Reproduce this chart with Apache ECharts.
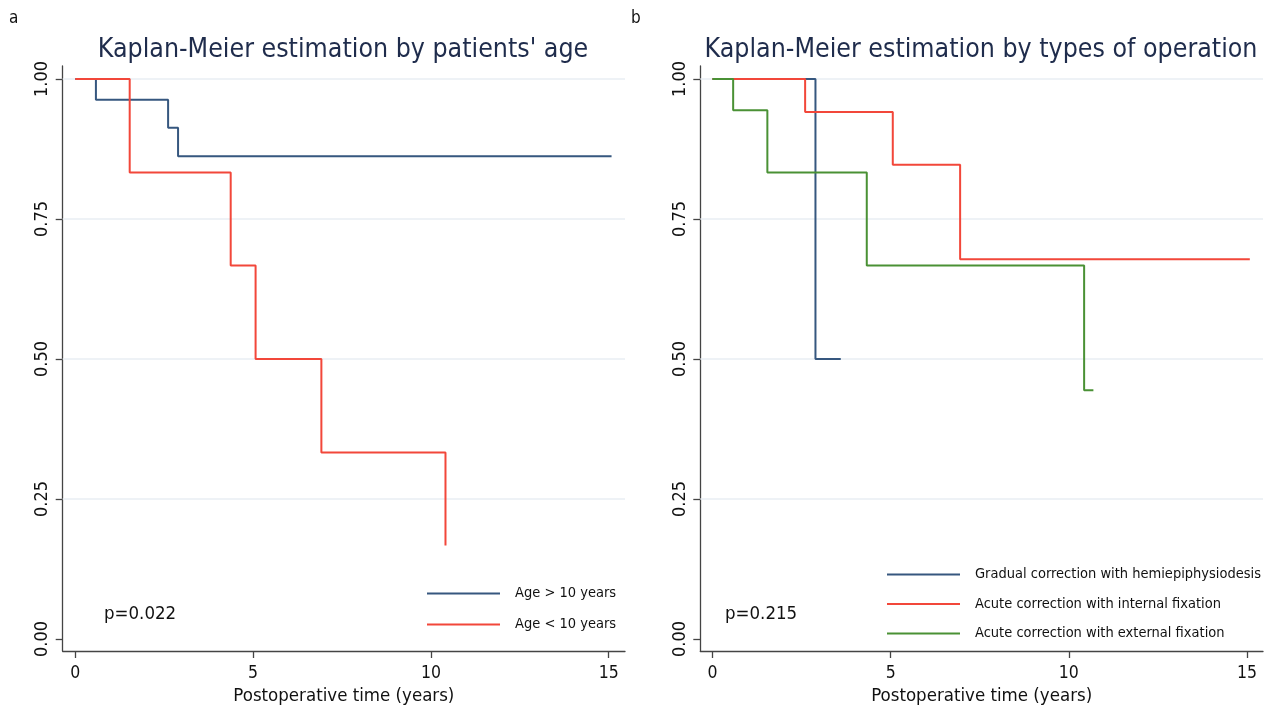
<!DOCTYPE html>
<html>
<head>
<meta charset="utf-8">
<script src="https://cdn.jsdelivr.net/npm/echarts@6/dist/echarts.min.js"></script>
<style>
html,body{margin:0;padding:0;background:#fff;}
#main{width:1266px;height:706px;}
</style>
</head>
<body>
<div id="main"></div>
<script>
// ---- data (time in years, survival probability) ----
const ageOver10 = [[0,1],[0.58,0.963],[2.61,0.913],[2.89,0.862],[15.08,0.862]];
const ageUnder10 = [[0,1],[1.53,0.833],[4.37,0.667],[5.07,0.5],[6.92,0.333],[10.41,0.167]];
const gradualHemi = [[0,1],[2.89,0.5],[3.6,0.5]];
const acuteInternal = [[0,1],[2.6,0.941],[5.06,0.847],[6.95,0.678],[15.08,0.678]];
const acuteExternal = [[0,1],[0.58,0.944],[1.54,0.833],[4.33,0.667],[10.43,0.444],[10.69,0.444]];
const xTicks = [0,5,10,15];
const yTicks = [0,0.25,0.5,0.75,1];
const gridValues = [0.25,0.5,0.75,1];
const titleA = "Kaplan-Meier estimation by patients' age";
const titleB = "Kaplan-Meier estimation by types of operation";
const xName = "Postoperative time (years)";
const nameA = ["Age > 10 years","Age < 10 years"];
const nameB = ["Gradual correction with hemiepiphysiodesis","Acute correction with internal fixation","Acute correction with external fixation"];
const pA = "p=0.022", pB = "p=0.215";

const FONT = "DejaVu Sans Condensed, DejaVu Sans, sans-serif";
const BLUE = '#36577f', RED = '#f2473a', GREEN = '#4a9135';

function xAxis(idx, min, max){
  return {
    type:'value', gridIndex:idx, min:min, max:max,
    axisLine:{show:true, onZero:false, lineStyle:{color:'#444', width:1.3}},
    axisTick:{show:true, length:7, customValues:xTicks, lineStyle:{color:'#444', width:1.3}},
    axisLabel:{customValues:xTicks, fontSize:17.5, color:'#111', margin:13, fontFamily:FONT},
    splitLine:{show:false},
    name:xName, nameLocation:'middle', nameGap:25,
    nameTextStyle:{fontSize:18.5, color:'#111', fontFamily:FONT}
  };
}
function yAxis(idx){
  return {
    type:'value', gridIndex:idx, min:-0.0214, max:1.0232,
    axisLine:{show:true, onZero:false, lineStyle:{color:'#444', width:1.3}},
    axisTick:{show:true, length:7, customValues:yTicks, lineStyle:{color:'#444', width:1.3}},
    axisLabel:{customValues:yTicks, fontSize:18, color:'#111', margin:11, rotate:90, fontFamily:FONT,
      formatter:v=>v.toFixed(2)},
    splitLine:{show:false}
  };
}
function gridSeries(idx){
  return {name:'grid'+idx, type:'line', data:[], xAxisIndex:idx, yAxisIndex:idx, z:1, silent:true,
    markLine:{z:1, silent:true, symbol:'none', label:{show:false}, animation:false,
      lineStyle:{color:'#e8eef3', width:1.5, type:'solid'},
      emphasis:{disabled:true},
      data: gridValues.map(v=>({yAxis:v}))}};
}
function ser(name, data, color, idx){
  return {name:name, type:'line', step:'end', data:data, xAxisIndex:idx, yAxisIndex:idx, z:3,
    showSymbol:false, symbol:'none', animation:false,
    lineStyle:{color:color, width:2}, itemStyle:{color:color}};
}

const chart = echarts.init(document.getElementById('main'), null, {renderer:'canvas'});
chart.setOption({
  animation:false,
  backgroundColor:'#fff',
  title:[
    {text:titleA, left:338, top:45, textAlign:'center', textVerticalAlign:'middle',
      textStyle:{fontSize:26.5, fontWeight:'normal', color:'#1f2c4c', fontFamily:FONT}},
    {text:titleB, left:976, top:45, textAlign:'center', textVerticalAlign:'middle',
      textStyle:{fontSize:26.5, fontWeight:'normal', color:'#1f2c4c', fontFamily:FONT}}
  ],
  grid:[
    {left:62.7, top:66, width:562.3, height:585, outerBoundsMode:'none', containLabel:false},
    {left:700.3, top:66, width:562.7, height:585, outerBoundsMode:'none', containLabel:false}
  ],
  xAxis:[xAxis(0,-0.354,15.458), xAxis(1,-0.342,15.45)],
  yAxis:[yAxis(0), yAxis(1)],
  legend:[
    {data:nameA, orient:'vertical', left:427, top:586, padding:0, icon:'rect', itemWidth:73, itemHeight:2,
      itemGap:16, textStyle:{fontSize:14.5, color:'#111', fontFamily:FONT, padding:[0,0,0,10]}, selectedMode:false},
    {data:nameB, orient:'vertical', left:887, top:567, padding:0, icon:'rect', itemWidth:73, itemHeight:2,
      itemGap:14.5, textStyle:{fontSize:14.5, color:'#111', fontFamily:FONT, padding:[0,0,0,10]}, selectedMode:false}
  ],
  graphic:[
    {type:'text', left:9, top:10, style:{text:'a', font:'17px '+FONT, fill:'#111'}},
    {type:'text', left:631, top:10, style:{text:'b', font:'17px '+FONT, fill:'#111'}},
    {type:'text', left:104, top:605, style:{text:pA, font:'18.5px '+FONT, fill:'#111'}},
    {type:'text', left:725, top:605, style:{text:pB, font:'18.5px '+FONT, fill:'#111'}}
  ],
  series:[
    gridSeries(0), gridSeries(1),
    ser(nameA[0], ageOver10, BLUE, 0),
    ser(nameA[1], ageUnder10, RED, 0),
    ser(nameB[0], gradualHemi, BLUE, 1),
    ser(nameB[1], acuteInternal, RED, 1),
    ser(nameB[2], acuteExternal, GREEN, 1)
  ]
});
</script>
</body>
</html>
